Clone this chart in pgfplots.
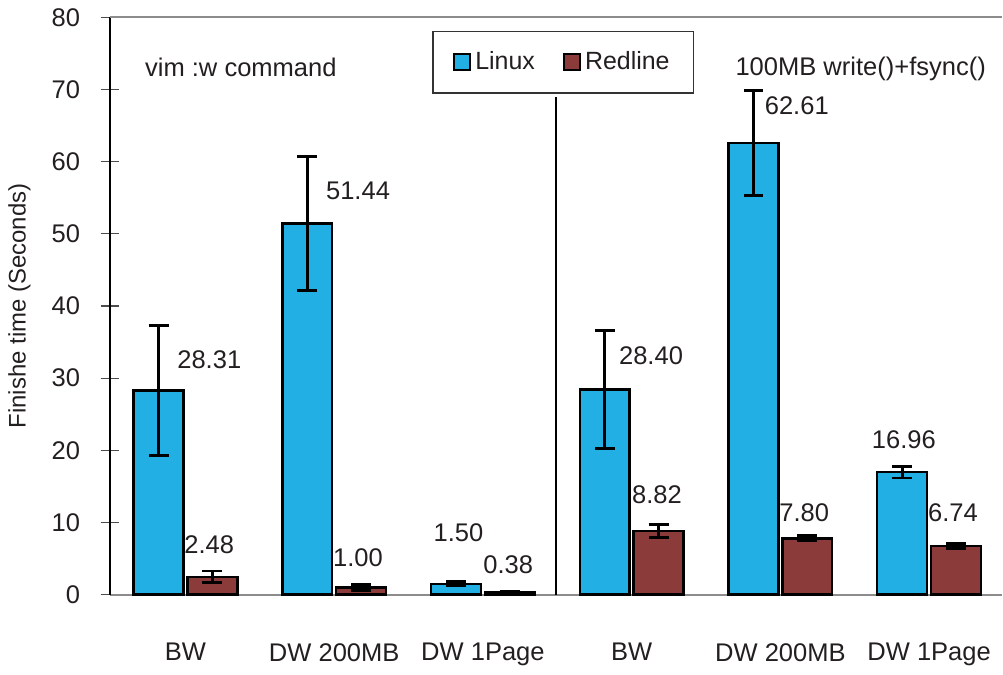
\documentclass[border=0pt]{standalone}
\usepackage{pgfplots}
\pgfplotsset{compat=1.18}
\usepackage{fontspec}
\setmainfont{Liberation Sans}
\definecolor{linuxc}{HTML}{22B0E4}
\definecolor{redc}{HTML}{8C3B3B}
\definecolor{txt}{HTML}{231F20}
\begin{document}
\begin{tikzpicture}
\fontsize{12.5}{15}\selectfont
\begin{axis}[
  scale only axis,
  width=447.5pt, height=289.5pt,
  ymin=0, ymax=80,
  xmin=-0.51, xmax=5.49,
  ytick={0,10,...,80},
  xtick={0,1,2,3,4,5},
  xticklabels={BW, DW 200MB, DW 1Page, BW, DW 200MB, DW 1Page},
  axis x line*=bottom,
  axis y line*=left,
  x axis line style={draw=black!45, line width=1pt, -},
  y axis line style={draw=black, line width=1pt, -},
  xtick style={draw=none},
  ytick style={draw=black!70, line width=0.6pt},
  tick align=center,
  major tick length=9pt,
  /pgf/number format/assume math mode=true,
  tick label style={font=\fontsize{12.8}{15}\selectfont, text=txt},
  yticklabel style={xshift=-6pt},
  xticklabel style={yshift=-11pt},
  ylabel={Finishe time (Seconds)},
  ylabel style={font=\fontsize{12}{14}\selectfont, text=txt, yshift=2pt},
  ybar, bar width=25pt,
  clip=false,
  legend columns=2,
  legend style={draw=black!80, line width=0.6pt, at={(axis cs:2.54,73.8)}, anchor=center,
    inner xsep=10pt, inner ysep=8pt, font=\fontsize{12.5}{15}\selectfont, text=txt,
    /tikz/every even column/.append style={column sep=12pt}},
  legend image code/.code={\draw[#1, draw=black, line width=1.2pt] (0pt,-4pt) rectangle (8pt,4pt);},
  error bars/error bar style={line width=1.4pt, black},
  error bars/error mark options={rotate=90, mark size=5pt, line width=1.4pt, black},
]
\addplot[fill=linuxc, draw=black, line width=1.2pt,
  error bars/.cd, y dir=both, y explicit]
  coordinates {
    (0,28.31) +- (0,9.0)
    (1,51.44) +- (0,9.3)
    (2,1.50) +- (0,0.3)
    (3,28.40) +- (0,8.2)
    (4,62.61) +- (0,7.3)
    (5,16.96) +- (0,0.8)
  };
\addplot[fill=redc, draw=black, line width=1.2pt,
  error bars/.cd, y dir=both, y explicit]
  coordinates {
    (0,2.48) +- (0,0.8)
    (1,1.00) +- (0,0.4)
    (2,0.38) +- (0,0.1)
    (3,8.82) +- (0,0.95)
    (4,7.80) +- (0,0.35)
    (5,6.74) +- (0,0.3)
  };
\legend{Linux, Redline}
\draw[black!45, line width=1pt] (rel axis cs:0,1) -- (rel axis cs:1,1);
\draw[black, line width=1.3pt] (axis cs:2.49,0) -- (axis cs:2.49,69);
\begin{scope}[every node/.style={text=txt, font=\fontsize{12.8}{15}\selectfont}]
\node at (axis cs:0.16,32.5) {28.31};
\node at (axis cs:0.16,6.9) {2.48};
\node at (axis cs:1.16,55.9) {51.44};
\node at (axis cs:1.16,5.1) {1.00};
\node at (axis cs:1.835,8.6) {1.50};
\node at (axis cs:2.17,4.1) {0.38};
\node at (axis cs:3.13,33.1) {28.40};
\node at (axis cs:3.17,13.8) {8.82};
\node at (axis cs:4.11,67.7) {62.61};
\node at (axis cs:4.16,11.3) {7.80};
\node at (axis cs:4.83,21.5) {16.96};
\node at (axis cs:5.16,11.3) {6.74};
\node[anchor=west] at (axis cs:-0.33,73) {vim :w command};
\node at (axis cs:4.54,72.9) {100MB write()+fsync()};
\end{scope}
\end{axis}
\end{tikzpicture}
\end{document}
